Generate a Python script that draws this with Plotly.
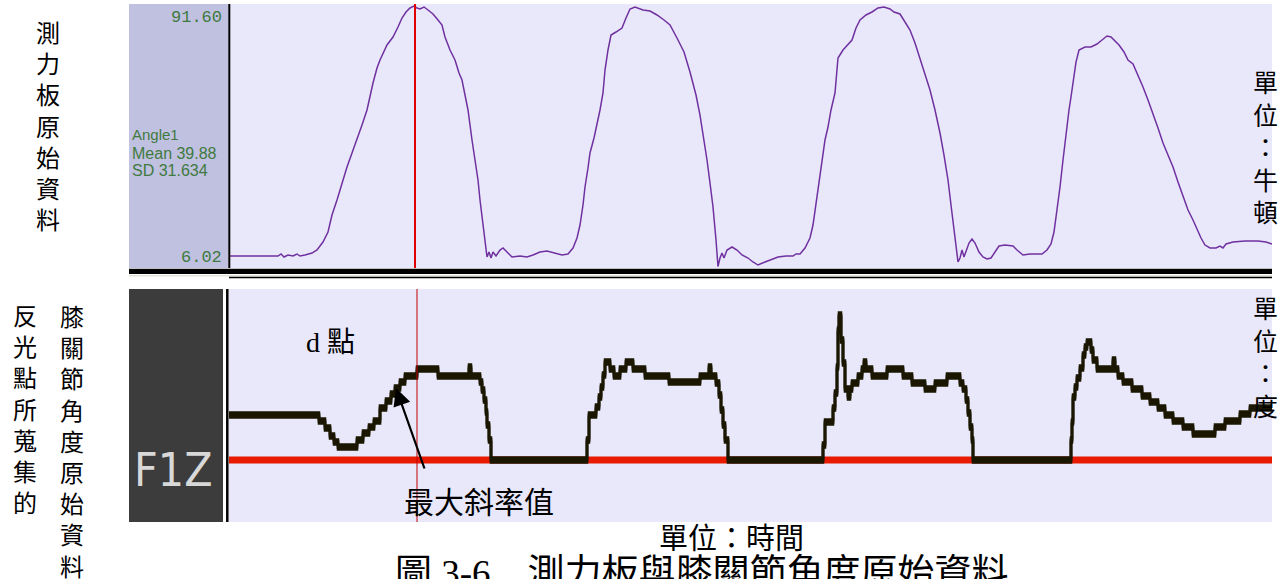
import plotly.graph_objects as go

W, H = 1280, 579

# ---------------- force plate channel (frame index, value) ----------------
force_frame = [1, 49, 52, 55, 59, 64, 68, 71, 76, 83, 88, 94, 99, 103, 108, 113, 118, 123, 128, 133,
               138, 141, 144, 148, 151, 158, 164, 169, 173, 177, 181, 185, 188, 191, 195, 199, 204, 209,
               213, 216, 221, 226, 230, 233, 236, 239, 243, 246, 249, 251, 253, 255, 258, 260, 262, 264,
               267, 271, 274, 278, 283, 291, 298, 304, 311, 318, 326, 333, 339, 344, 348, 351, 354, 356,
               359, 361, 365, 368, 371, 374, 376, 379, 382, 387, 393, 397, 401, 406, 414, 421, 428, 435,
               441, 448, 455, 461, 467, 471, 475, 478, 481, 484, 487, 489, 491, 493, 495, 498, 503, 508,
               513, 519, 524, 529, 536, 543, 549, 557, 564, 567, 571, 576, 581, 584, 587, 590, 593, 596,
               599, 602, 606, 608, 609, 614, 619, 623, 627, 631, 637, 643, 649, 655, 661, 665, 671, 676,
               681, 686, 691, 696, 701, 706, 711, 715, 719, 722, 725, 728, 729, 731, 733, 735, 737, 740,
               743, 746, 750, 754, 758, 762, 766, 770, 776, 784, 788, 794, 801, 813, 818, 822, 825, 828,
               831, 834, 837, 840, 842, 844, 847, 850, 856, 862, 868, 873, 878, 882, 885, 890, 895, 899,
               904, 909, 914, 919, 924, 929, 934, 939, 944, 949, 954, 959, 964, 968, 972, 976, 981, 987,
               991, 994, 997, 1004, 1016, 1029, 1037, 1043]
force_value = [9.47, 9.47, 10.13, 9.14, 9.80, 9.47, 10.13, 9.47, 9.80, 10.45, 11.44, 14.07, 17.35, 22.94,
               27.87, 33.45, 38.71, 43.31, 47.58, 52.51, 57.44, 62.37, 66.31, 71.23, 73.86, 78.79, 81.42,
               84.70, 87.66, 89.64, 90.95, 91.60, 90.95, 90.62, 91.27, 90.29, 88.98, 87.00, 85.36, 81.42,
               77.15, 73.86, 69.59, 67.29, 62.37, 57.44, 47.58, 41.01, 34.44, 27.87, 22.94, 17.35, 9.14,
               10.78, 8.81, 10.78, 9.47, 11.44, 12.10, 10.78, 9.14, 9.47, 9.14, 9.80, 10.78, 11.11, 10.45,
               9.80, 10.13, 12.10, 15.38, 19.65, 26.22, 32.14, 38.38, 43.31, 48.24, 52.51, 57.44, 63.02,
               70.57, 77.15, 82.08, 83.06, 84.37, 87.66, 90.62, 91.27, 90.29, 89.96, 88.65, 87.00, 85.36,
               81.09, 76.49, 69.92, 62.37, 55.79, 47.58, 41.01, 33.45, 25.57, 14.73, 6.02, 8.81, 10.45,
               8.81, 11.44, 12.43, 11.44, 9.80, 8.81, 7.50, 6.51, 7.50, 8.48, 9.14, 9.47, 9.47, 10.13,
               10.13, 12.10, 15.38, 19.65, 26.22, 34.44, 41.01, 47.58, 51.85, 57.44, 63.02, 72.22, 74.52,
               77.15, 78.79, 80.43, 84.37, 87.00, 88.65, 89.64, 90.95, 91.27, 90.62, 89.64, 88.98, 86.35,
               83.72, 79.45, 74.52, 69.59, 64.01, 57.44, 49.88, 42.65, 34.44, 26.22, 17.35, 10.45, 7.50,
               8.81, 11.44, 9.14, 10.78, 13.74, 15.05, 13.74, 10.78, 9.14, 8.48, 8.81, 10.78, 12.75,
               13.08, 12.75, 11.44, 9.80, 10.13, 10.13, 11.44, 13.41, 17.35, 24.58, 32.14, 41.01, 49.88,
               57.44, 61.71, 66.31, 73.20, 77.15, 78.13, 78.13, 79.12, 80.43, 81.75, 81.42, 80.43, 78.79,
               76.49, 73.86, 72.55, 68.93, 65.00, 60.72, 56.45, 51.52, 46.59, 42.65, 38.71, 33.78, 28.85,
               24.58, 21.30, 18.01, 15.38, 13.08, 12.10, 12.10, 12.75, 12.10, 13.41, 14.07, 14.40, 14.40,
               14.07, 13.41]
force_name = "Angle1"
force_mean = 39.88
force_sd = 31.634
force_cursor = 186

# ---------------- knee angle channel (step start frame, value) ----------------
knee_frame = [0, 90, 96, 101, 105, 109, 128, 134, 140, 145, 151, 157, 162, 166, 171, 176, 188, 209, 240,
              242, 251, 253, 255, 257, 258, 260, 262, 358, 360, 367, 370, 372, 374, 376, 381, 385, 391,
              397, 404, 416, 440, 471, 480, 482, 487, 490, 492, 494, 496, 499, 594, 596, 604, 606, 608,
              609, 610, 612, 614, 616, 619, 621, 623, 629, 633, 635, 637, 643, 658, 674, 683, 696, 706,
              718, 731, 734, 737, 739, 741, 743, 744, 842, 843, 844, 846, 848, 851, 854, 856, 858, 862,
              864, 868, 884, 886, 889, 894, 903, 913, 921, 929, 936, 944, 954, 964, 986, 996, 1011, 1021,
              1043]
knee_value = [53.5, 50.5, 47.0, 43.0, 40.0, 37.5, 41.0, 44.5, 47.5, 50.5, 57.0, 60.5, 64.0, 67.0, 70.0,
              73.0, 76.5, 73.0, 77.5, 73.0, 70.0, 66.0, 61.0, 55.0, 48.5, 41.0, 31.0, 41.0, 53.5, 57.5,
              62.5, 67.5, 73.5, 80.0, 76.5, 73.0, 76.5, 80.0, 76.5, 73.0, 70.0, 73.0, 77.5, 73.0, 69.5,
              63.5, 56.0, 48.5, 41.0, 31.0, 38.5, 50.0, 57.0, 64.5, 77.5, 96.0, 103.5, 91.0, 79.5, 66.5,
              62.5, 66.5, 69.5, 73.0, 76.5, 80.0, 76.5, 73.0, 76.5, 73.0, 69.5, 66.5, 69.5, 73.0, 69.5,
              66.5, 61.0, 54.5, 47.5, 41.0, 31.0, 41.0, 50.0, 62.5, 67.5, 72.0, 77.0, 83.5, 87.5, 90.0,
              86.0, 81.0, 76.5, 81.0, 76.5, 73.0, 70.0, 66.5, 63.0, 60.0, 57.0, 53.5, 50.5, 47.5, 44.0,
              47.5, 50.5, 54.0, 57.0, 57.0]
knee_threshold = 31.0
knee_cursor = 188
knee_channel = "F1Z"
max_slope_frame = 167
max_slope_value = 67.0

FRAME_RANGE = [0, 1043]


def px(x):
    return x / W


def py(y):
    return 1 - y / H


LAVENDER = "#e8e8fa"
PURPLE = "#7030a0"
GREEN = "#3f7a3f"
INK = "#1a1600"
RED = "#e81a00"
CJK = "Noto Sans CJK TC"
SERIF_CJK = "Liberation Serif, Noto Sans CJK TC"

fig = go.Figure()

fig.add_trace(go.Scatter(x=force_frame, y=force_value, mode="lines",
                         line=dict(color=PURPLE, width=1.5), xaxis="x", yaxis="y",
                         hoverinfo="skip"))

# threshold line under the knee trace
fig.add_trace(go.Scatter(x=FRAME_RANGE, y=[knee_threshold, knee_threshold], mode="lines",
                         line=dict(color=RED, width=7), xaxis="x2", yaxis="y2", hoverinfo="skip"))

# knee trace drawn with a tall, narrow pen
for off in (-1.25, -0.4, 0.4, 1.25):
    fig.add_trace(go.Scatter(x=knee_frame, y=[v + off for v in knee_value], mode="lines",
                             line=dict(color=INK, width=2.5, shape="hv"),
                             xaxis="x2", yaxis="y2", hoverinfo="skip"))

x_dom = [px(229), px(1272)]
axis_off = dict(showgrid=False, zeroline=False, showticklabels=False, ticks="", showline=False)

fig.update_layout(
    width=W, height=H, margin=dict(l=0, r=0, t=0, b=0),
    paper_bgcolor="white", plot_bgcolor=LAVENDER, showlegend=False,
    xaxis=dict(domain=x_dom, range=FRAME_RANGE, anchor="y", **axis_off),
    yaxis=dict(domain=[py(268), py(4)], range=[5.53, 92.26], anchor="x", **axis_off),
    xaxis2=dict(domain=x_dom, range=FRAME_RANGE, anchor="y2", **axis_off),
    yaxis2=dict(domain=[py(522), py(289)], range=[0, 116.5], anchor="x2", **axis_off),
)

shapes = [
    # label panels
    dict(type="rect", xref="paper", yref="paper", x0=px(129), x1=px(228.5), y0=py(268), y1=py(4),
         fillcolor="#c0c0e0", line=dict(width=0), layer="above"),
    dict(type="rect", xref="paper", yref="paper", x0=px(129), x1=px(223), y0=py(522), y1=py(289),
         fillcolor="#3c3c3c", line=dict(width=0), layer="above"),
    # panel dividers
    dict(type="line", xref="paper", yref="paper", x0=px(229.3), x1=px(229.3), y0=py(268), y1=py(4),
         line=dict(color="black", width=2)),
    dict(type="line", xref="paper", yref="paper", x0=px(227.3), x1=px(227.3), y0=py(522), y1=py(289),
         line=dict(color="black", width=2.5)),
    dict(type="rect", xref="paper", yref="paper", x0=px(129), x1=px(1272), y0=py(274), y1=py(268.7),
         fillcolor="black", line=dict(width=0)),
    dict(type="line", xref="paper", yref="paper", x0=px(129), x1=px(1272), y0=py(275.8), y1=py(275.8),
         line=dict(color="#d8d4c4", width=1)),
    dict(type="line", xref="paper", yref="paper", x0=px(229), x1=px(1272), y0=py(277.5), y1=py(277.5),
         line=dict(color="black", width=1.5)),
    # time cursors
    dict(type="line", xref="x", yref="y domain", x0=force_cursor, x1=force_cursor, y0=0, y1=1,
         line=dict(color="#e00000", width=2)),
    dict(type="line", xref="x2", yref="y2 domain", x0=knee_cursor, x1=knee_cursor, y0=0, y1=1,
         line=dict(color="#c00000", width=1)),
]
fig.update_layout(shapes=shapes)

force_lo, force_hi = min(force_value), max(force_value)


def label(x, y, text, size, family, color="black", xanchor="center", **kw):
    return dict(xref="paper", yref="paper", x=px(x), y=py(y), xanchor=xanchor, yanchor="middle",
                text=text, showarrow=False, font=dict(family=family, size=size, color=color), **kw)


ann = [
    dict(xref="paper", yref="y", x=px(224), y=force_hi, xanchor="right", yanchor="top", showarrow=False,
         text=f"{force_hi:.2f}", font=dict(family="Liberation Mono", size=17, color=GREEN)),
    dict(xref="paper", yref="y", x=px(224), y=force_lo, xanchor="right", yanchor="middle", yshift=9,
         showarrow=False, text=f"{force_lo:.2f}",
         font=dict(family="Liberation Mono", size=17, color=GREEN)),
    label(130, 134.5, force_name, 15, "Liberation Sans", GREEN, xanchor="left"),
    label(130, 153.5, f"Mean {force_mean:.2f}", 16, "Liberation Sans", GREEN, xanchor="left"),
    label(130, 171, f"SD {force_sd:.3f}", 16, "Liberation Sans", GREEN, xanchor="left"),
    label(132, 470, knee_channel, 46, "DejaVu Sans Condensed, Liberation Sans Narrow, DejaVu Sans",
          "#d8d8d8", xanchor="left"),
    # arrow to the steepest point
    dict(xref="x2", yref="y2", x=max_slope_frame, y=max_slope_value, ax=29, ay=82, text="",
         showarrow=True, arrowhead=2, arrowsize=1.6, arrowwidth=2.2, arrowcolor="black", standoff=0),
    label(330, 342, "d 點", 28, SERIF_CJK),
    label(478.5, 502.5, "最大斜率值", 30, SERIF_CJK),
    label(731, 539, "單位：時間", 29, SERIF_CJK),
    label(702, 573, "圖 3-6　測力板與膝關節角度原始資料", 37, SERIF_CJK),
]


def vertical(text, x, y_mid, size):
    return label(x, y_mid, "<br>".join(text), size, CJK, align="center")


ann += [
    vertical("測力板原始資料", 48, 125.5, 24),
    vertical("反光點所蒐集的", 25, 408, 24),
    vertical("膝關節角度原始資料", 72, 440, 24),
    vertical("單位：牛頓", 1265, 146, 25),
    vertical("單位：度", 1265, 356, 25),
]
fig.update_layout(annotations=ann)

fig.write_html("out.html")
